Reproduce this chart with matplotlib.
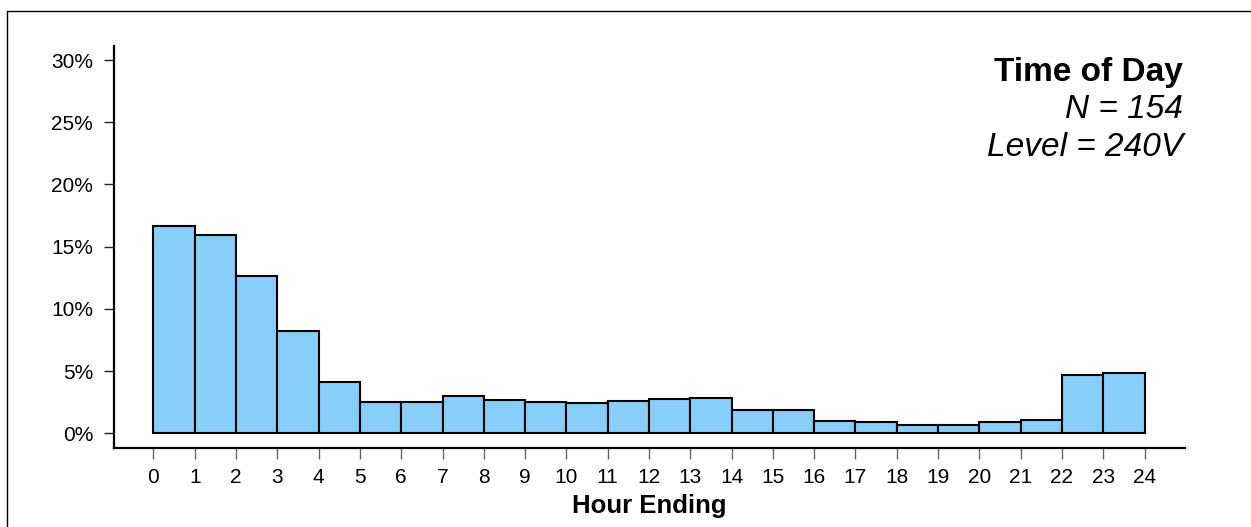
import matplotlib
matplotlib.use("Agg")
import matplotlib.pyplot as plt
from matplotlib.lines import Line2D
from matplotlib.ticker import FuncFormatter

plt.rcParams['font.family'] = ['Liberation Sans', 'DejaVu Sans']

# Share of charging sessions by hour ending (percent)
hours = list(range(24))
share_pct = [16.7, 15.95, 12.65, 8.22, 4.11, 2.54, 2.54, 3.00, 2.68, 2.54, 2.46, 2.62,
             2.76, 2.87, 1.87, 1.87, 1.00, 0.92, 0.70, 0.70, 0.92, 1.08, 4.70, 4.81]
x_ticks = list(range(25))
y_ticks = [0, 5, 10, 15, 20, 25, 30]
title_lines = ["Time of Day", "N = 154", "Level = 240V"]
x_label = "Hour Ending"

W, H = 1251, 527
fig = plt.figure(figsize=(W / 100, H / 100), dpi=100)
fig.patch.set_facecolor('white')

# outer frame (top and left edges)
fig.add_artist(Line2D([6.5 / W, 6.5 / W, 1.0], [0.0, 1 - 10.5 / H, 1 - 10.5 / H],
                      transform=fig.transFigure, color='black', lw=1.0))

ax = fig.add_axes([114 / W, 1 - 448 / H, (1184.6 - 114) / W, (448 - 46) / H])
ax.bar(hours, share_pct, width=1.0, align='edge', color='#87CEFA',
       edgecolor='black', linewidth=1.5)

ax.set_xlim(-0.956, 24.97)
ax.set_ylim(-1.18, 31.13)
ax.set_xticks(x_ticks)
ax.set_xticklabels([str(t) for t in x_ticks])
ax.set_yticks(y_ticks)
ax.yaxis.set_major_formatter(FuncFormatter(lambda v, p: f"{v:.0f}%"))

for side in ('top', 'right'):
    ax.spines[side].set_visible(False)
for side in ('left', 'bottom'):
    ax.spines[side].set_linewidth(1.6)
    ax.spines[side].set_color('black')

ax.tick_params(axis='x', direction='out', length=8, width=1.0, color='#666666',
               labelsize=15, pad=6.5)
ax.tick_params(axis='y', direction='out', length=7, width=1.0, color='#222222',
               labelsize=15, pad=8)

ax.set_xlabel(x_label, fontsize=18.5, fontweight='bold', labelpad=5)

fig.text(1183 / W, 1 - 80.7 / H, title_lines[0], ha='right', va='baseline',
         fontsize=24, fontweight='bold')
fig.text(1183 / W, 1 - 118.3 / H, title_lines[1], ha='right', va='baseline',
         fontsize=24, fontstyle='italic')
fig.text(1183 / W, 1 - 156.3 / H, title_lines[2], ha='right', va='baseline',
         fontsize=24, fontstyle='italic')

fig.savefig("out.png", dpi=100)
